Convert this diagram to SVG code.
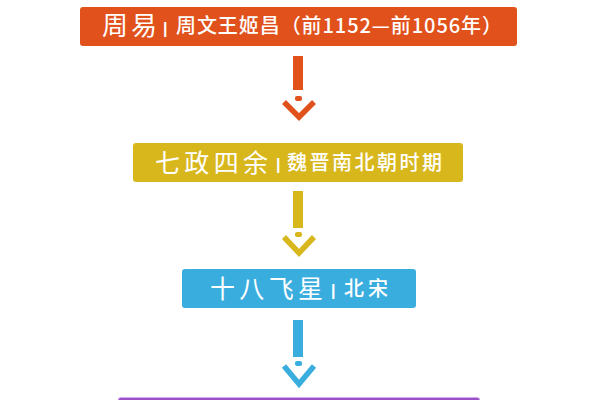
<svg xmlns="http://www.w3.org/2000/svg" width="600" height="400" viewBox="0 0 600 400">
<style>
  .big { font-family: "Noto Sans CJK SC", "Noto Sans", sans-serif; font-weight: 400; fill: #ffffff; }
  .small { font-family: "Noto Sans CJK SC", "Noto Sans", sans-serif; font-weight: 500; fill: #ffffff; font-size: 20px; }
  .bar { font-family: "Liberation Sans", sans-serif; font-weight: bold; fill: #ffffff; font-size: 16px; }
  .chev { fill: none; stroke-width: 5.5; stroke-linecap: butt; stroke-linejoin: miter; }
</style>
<rect x="0" y="0" width="600" height="400" fill="#ffffff"/>

<g id="node-zhouyi">
  <rect x="80" y="7" width="437" height="39" rx="3" fill="#E1511B"/>
  <text class="big" x="102" y="35" font-size="26" font-weight="700" textLength="55">周易</text>
  <text class="bar" x="163" y="34">|</text>
  <text class="small" x="176" y="33" textLength="326">周文王姬昌（前1152—前1056年）</text>
</g>

<g id="node-qizheng">
  <rect x="133" y="143" width="330" height="39" rx="3" fill="#D8B71D"/>
  <text class="big" x="155" y="172" font-size="25" textLength="113">七政四余</text>
  <text class="bar" x="276" y="170">|</text>
  <text class="small" x="287" y="170" textLength="155">魏晋南北朝时期</text>
</g>

<g id="node-shiba">
  <rect x="182" y="269" width="234" height="39" rx="3" fill="#3AADDF"/>
  <text class="big" x="210" y="298" font-size="25" textLength="113">十八飞星</text>
  <text class="bar" x="331" y="296">|</text>
  <text class="small" x="344" y="296" textLength="44">北宋</text>
</g>

<g id="node-next">
  <rect x="118" y="397.5" width="362" height="20" rx="3" fill="#9B50C8" stroke="#D0A8EC" stroke-width="1"/>
</g>

<g id="connectors">
  <g fill="#E1511B" stroke="#E1511B">
    <rect x="293" y="56" width="10" height="34" stroke="none"/>
    <rect x="295" y="96" width="7" height="5" rx="2" stroke="none"/>
    <polyline class="chev" points="284,102 299,117 314,102"/>
  </g>
  <g fill="#D8B71D" stroke="#D8B71D">
    <rect x="293" y="191" width="10" height="37" stroke="none"/>
    <rect x="295" y="232" width="7" height="5" rx="2" stroke="none"/>
    <polyline class="chev" points="284,237 299,253 314,237"/>
  </g>
  <g fill="#3AADDF" stroke="#3AADDF">
    <rect x="293" y="320" width="10" height="37" stroke="none"/>
    <rect x="295" y="361" width="7" height="5" rx="2" stroke="none"/>
    <polyline class="chev" points="284,366 299,384 314,366"/>
  </g>
</g>
</svg>
